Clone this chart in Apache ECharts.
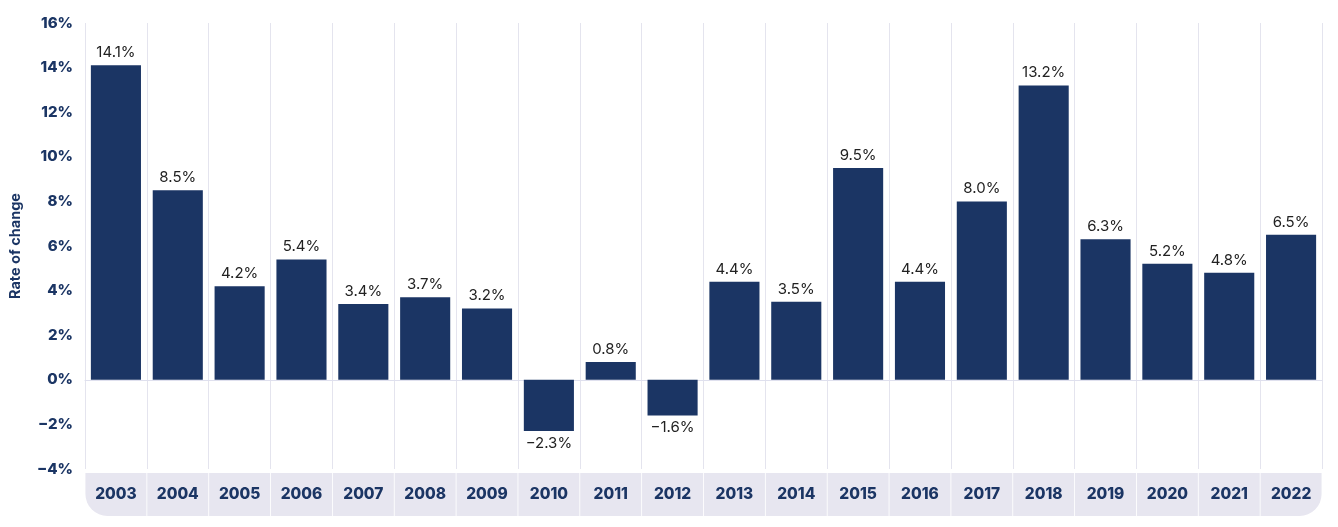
<!DOCTYPE html>
<html>
<head>
<meta charset="utf-8">
<script src="https://cdn.jsdelivr.net/npm/echarts@6/dist/echarts.min.js"></script>
<style>html,body{margin:0;padding:0;background:#fff}#c{width:1338px;height:527px}</style>
</head>
<body>
<div id="c"></div>
<script>
const years = ['2003','2004','2005','2006','2007','2008','2009','2010','2011','2012','2013','2014','2015','2016','2017','2018','2019','2020','2021','2022'];
const rates = [14.1, 8.5, 4.2, 5.4, 3.4, 3.7, 3.2, -2.3, 0.8, -1.6, 4.4, 3.5, 9.5, 4.4, 8.0, 13.2, 6.3, 5.2, 4.8, 6.5];
const yTicks = { min: -4, max: 16, interval: 2 };

const navy = '#1b3564';
const fmtNum = (v, d) => (v < 0 ? '\u2212' : '') + Math.abs(v).toFixed(d) + '%';

const chart = echarts.init(document.getElementById('c'), null, { renderer: 'canvas' });
const bandStyle = { backgroundColor: '#e7e6f0', color: navy, fontWeight: 800, fontSize: 15.5, fontFamily: 'Inter', width: 61, height: 43, lineHeight: 43, align: 'center' };
chart.setOption({
  animation: false,
  grid: { left: 85, right: 16, top: 23, bottom: 58, containLabel: false, outerBoundsMode: 'none' },
  xAxis: {
    type: 'category',
    data: years,
    axisLine: { onZero: true, lineStyle: { color: '#dfe0ee', width: 1 } },
    axisTick: { show: false },
    splitLine: { show: true, lineStyle: { color: '#e4e4ee', width: 1 } },
    axisLabel: {
      interval: 0,
      margin: 4,
      formatter: (v, i) => i === 0 ? '{f|' + v + '}' : (i === years.length - 1 ? '{l|' + v + '}' : '{m|' + v + '}'),
      rich: {
        m: Object.assign({}, bandStyle),
        f: Object.assign({}, bandStyle, { borderRadius: [0, 0, 0, 22] }),
        l: Object.assign({}, bandStyle, { borderRadius: [0, 0, 22, 0] })
      }
    }
  },
  yAxis: {
    type: 'value',
    min: yTicks.min, max: yTicks.max, interval: yTicks.interval,
    name: 'Rate of change',
    nameLocation: 'middle',
    nameRotate: 90,
    nameGap: 62,
    nameTextStyle: { color: navy, fontWeight: 'bold', fontSize: 14.5, fontFamily: 'Inter' },
    axisLine: { show: false },
    axisTick: { show: false },
    splitLine: { show: false },
    axisLabel: { margin: 12, color: navy, fontWeight: 800, fontSize: 15, fontFamily: 'Inter', formatter: v => fmtNum(v, 0) }
  },
  series: [{
    type: 'bar',
    barCategoryGap: '19%',
    itemStyle: { color: navy },
    data: rates.map(v => ({ value: v, label: { position: v < 0 ? 'bottom' : 'top' } })),
    label: { show: true, distance: 5, color: '#222', fontSize: 15, fontFamily: 'Inter', formatter: p => fmtNum(p.value, 1) }
  }]
});
</script>
</body>
</html>
